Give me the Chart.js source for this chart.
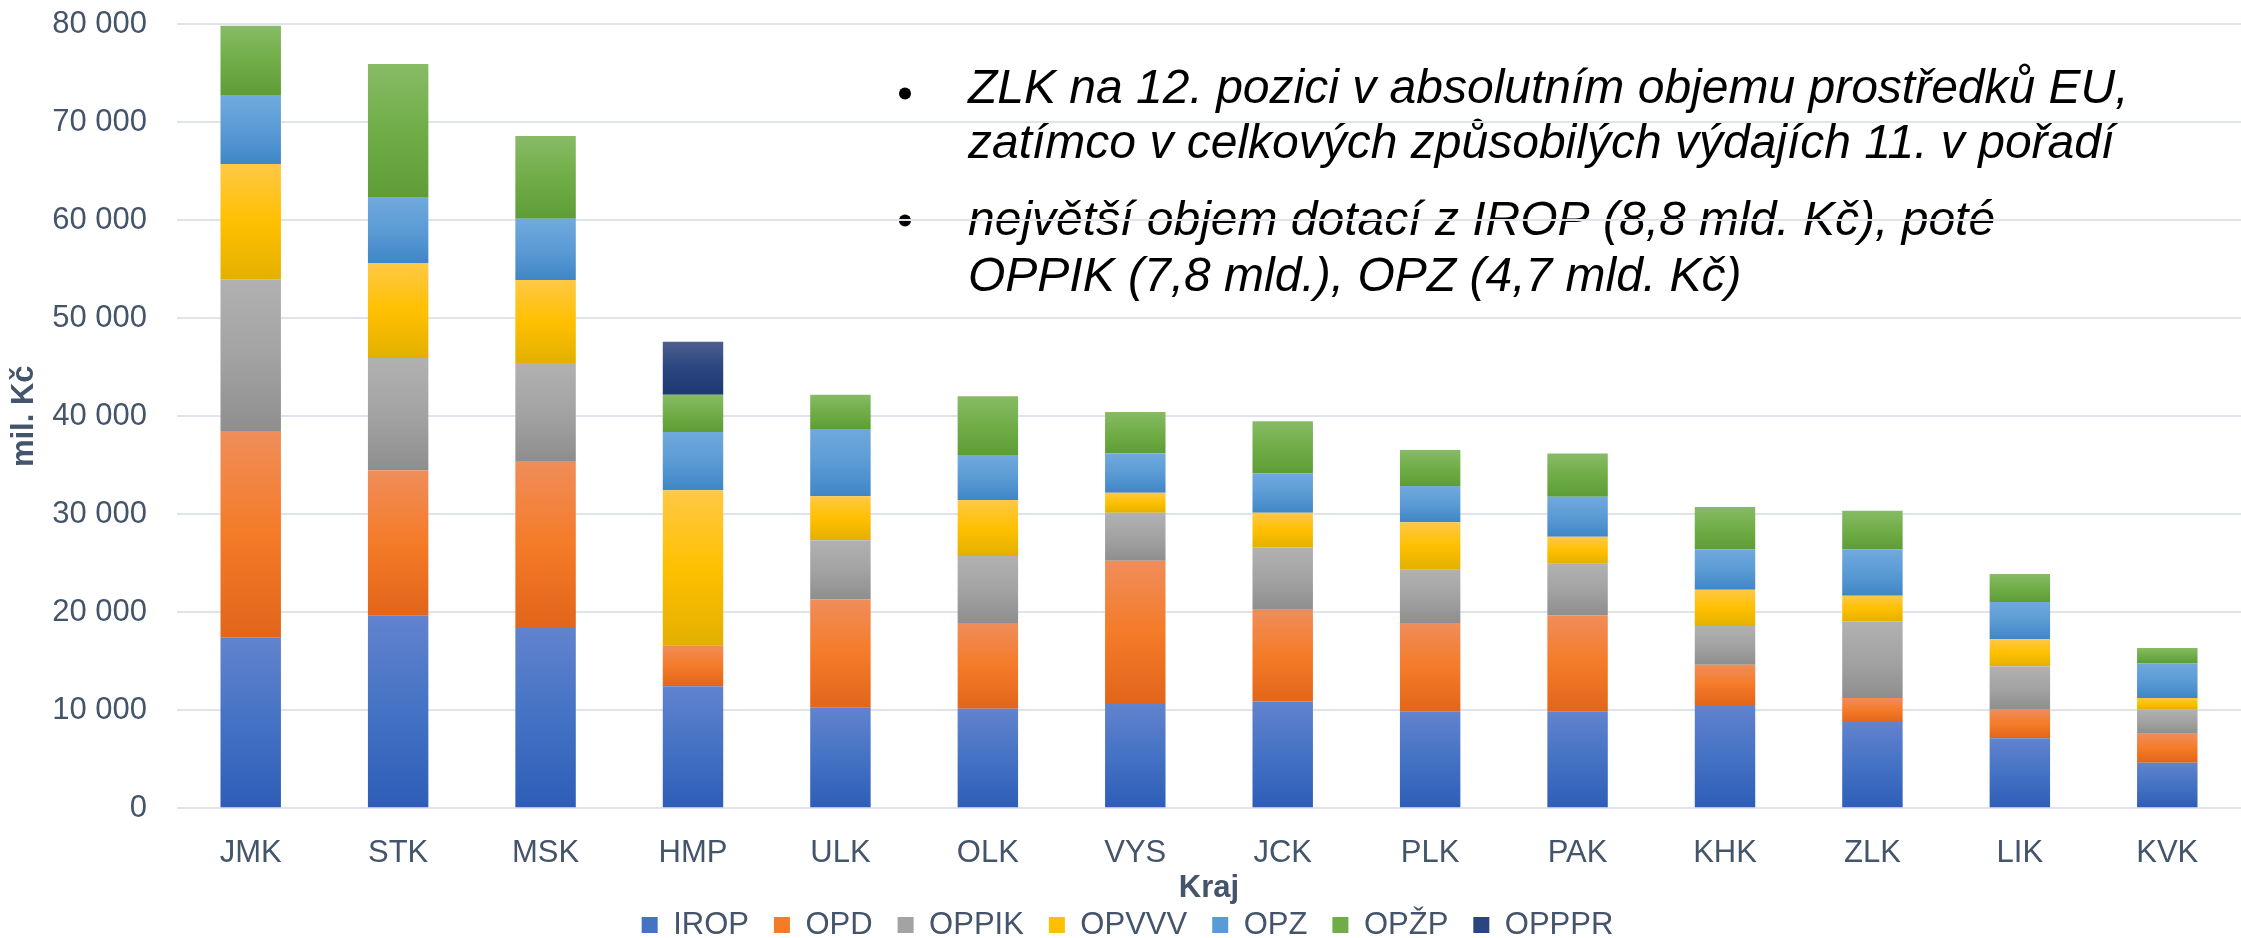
<!DOCTYPE html>
<html>
<head>
<meta charset="utf-8">
<script src="https://cdn.jsdelivr.net/npm/chart.js@4/dist/chart.umd.min.js"></script>
<style>
  html, body { margin: 0; padding: 0; background: #fff; }
  canvas { display: block; }
</style>
</head>
<body>
<canvas id="graf" width="2241" height="938"></canvas>
<script>
// kraje a čerpání podle OP (mil. Kč)
const kraje = ['JMK', 'STK', 'MSK', 'HMP', 'ULK', 'OLK', 'VYS', 'JCK', 'PLK', 'PAK', 'KHK', 'ZLK', 'LIK', 'KVK'];
const irop  = [17400, 19700, 18500, 12450, 10250, 10150, 10650, 10900, 9850, 9850, 10550, 8800, 7150, 4650];
const opd   = [21100, 14800, 16950, 4200, 11050, 8750, 14600, 9350, 9050, 9850, 4100, 2450, 2900, 2950];
const oppik = [15450, 11450, 10000, 0, 6050, 6850, 4900, 6350, 5450, 5250, 3950, 7800, 4450, 2500];
const opvvv = [11800, 9700, 8450, 15800, 4500, 5700, 2050, 3550, 4850, 2750, 3700, 2650, 2750, 1150];
const opz   = [6950, 6650, 6250, 5950, 6850, 4600, 4000, 4050, 3700, 4100, 4100, 4700, 3800, 3550];
const opzp  = [7150, 13650, 8450, 3800, 3500, 6000, 4250, 5300, 3650, 4400, 4350, 3950, 2850, 1550];
const opppr = [0, 0, 0, 5400, 0, 0, 0, 0, 0, 0, 0, 0, 0, 0];

const nazvyOP = ['IROP', 'OPD', 'OPPIK', 'OPVVV', 'OPZ', 'OPŽP', 'OPPPR'];
const hodnoty = [irop, opd, oppik, opvvv, opz, opzp, opppr];
// barvy: nahoře, střed, dole (přechod jako v Excelu)
const barvy = [
  ['#6283CE', '#4472C4', '#2D5DB7'],
  ['#F08D5A', '#F47B28', '#E2651A'],
  ['#B1B1B1', '#A3A3A3', '#8E8E8E'],
  ['#FFC846', '#FFC000', '#E3B000'],
  ['#70A9DD', '#5B9BD5', '#3F86C6'],
  ['#87BB66', '#70AD47', '#5E9D35'],
  ['#4E5F8E', '#2A4580', '#1D3873']
];

const poznamky = [
  ['ZLK na 12. pozici v absolutním objemu prostředků EU,', 'zatímco v celkových způsobilých výdajích 11. v pořadí'],
  ['největší objem dotací z IROP (8,8 mld. Kč), poté', 'OPPIK (7,8 mld.), OPZ (4,7 mld. Kč)']
];

const textBarva = '#44546A';
const pismo = "'Liberation Sans', Arial, sans-serif";

function prechod(context, d) {
  const chart = context.chart;
  const stops = barvy[d];
  if (!chart.chartArea || context.type !== 'data') return stops[1];
  const i = context.dataIndex;
  let zaklad = 0;
  for (let k = 0; k < d; k++) zaklad += hodnoty[k][i];
  const y = chart.scales.y;
  const yTop = y.getPixelForValue(zaklad + hodnoty[d][i]);
  const yBot = y.getPixelForValue(zaklad);
  if (!(yBot - yTop > 0.5)) return stops[1];
  const g = chart.ctx.createLinearGradient(0, yTop, 0, yBot);
  g.addColorStop(0, stops[0]);
  g.addColorStop(0.5, stops[1]);
  g.addColorStop(1, stops[2]);
  return g;
}

const datasets = nazvyOP.map((nazev, d) => ({
  label: nazev,
  data: hodnoty[d],
  backgroundColor: (ctx) => prechod(ctx, d),
  borderWidth: 0,
  barPercentage: 0.41,
  categoryPercentage: 1
}));

const textPlugin = {
  id: 'poznamky',
  beforeDraw(chart) {
    const c = chart.ctx;
    c.save();
    c.fillStyle = '#fff';
    c.fillRect(0, 0, chart.width, chart.height);
    c.fillStyle = '#000';
    c.font = "italic 48px " + pismo;
    c.textBaseline = 'alphabetic';
    c.textAlign = 'left';
    const radky = [[102.7, 158.3], [235, 290.7]];
    const tecky = [93.5, 220.5];
    poznamky.forEach((blok, b) => {
      c.beginPath();
      c.arc(905, tecky[b], 6, 0, Math.PI * 2);
      c.fill();
      blok.forEach((t, r) => c.fillText(t, 968, radky[b][r]));
    });
    c.restore();
  }
};

new Chart(document.getElementById('graf'), {
  type: 'bar',
  data: { labels: kraje, datasets: datasets },
  plugins: [textPlugin],
  options: {
    responsive: false,
    animation: false,
    layout: { padding: { left: 0, right: -14, top: 24.3, bottom: -12.5 } },
    scales: {
      x: {
        stacked: true,
        grid: { display: false },
        border: { display: false },
        ticks: { color: textBarva, padding: 19, font: { family: pismo, size: 31 } },
        title: {
          display: true, text: 'Kraj', color: textBarva,
          font: { family: pismo, size: 31, weight: 'bold' },
          padding: { top: 0, bottom: -23 }
        },
        afterFit(scale) { scale.height = 76.2; }
      },
      y: {
        stacked: true,
        min: 0, max: 80000,
        grid: { color: '#E0E4EA', lineWidth: 2, drawTicks: false },
        border: { display: false },
        ticks: {
          stepSize: 10000, padding: 30, color: textBarva,
          font: { family: pismo, size: 31 },
          callback: (v) => String(v).replace(/\B(?=(\d{3})+(?!\d))/g, ' ')
        },
        title: {
          display: true, text: 'mil. Kč', color: textBarva,
          font: { family: pismo, size: 31, weight: 'bold' },
          padding: { top: 6, bottom: 0 }
        },
        afterFit(scale) {
          scale.width = 177;
          scale.paddingTop = 0;
          scale.paddingBottom = 0;
        }
      }
    },
    plugins: {
      legend: {
        position: 'bottom',
        labels: {
          color: textBarva,
          font: { family: pismo, size: 31 },
          boxWidth: 16, boxHeight: 16, padding: 25,
          generateLabels(chart) {
            return nazvyOP.map((n, d) => ({
              text: n, fillStyle: barvy[d][1], strokeStyle: barvy[d][1],
              lineWidth: 0, hidden: false, datasetIndex: d, fontColor: textBarva
            }));
          }
        }
      },
      tooltip: { enabled: false }
    }
  }
});
</script>
</body>
</html>
